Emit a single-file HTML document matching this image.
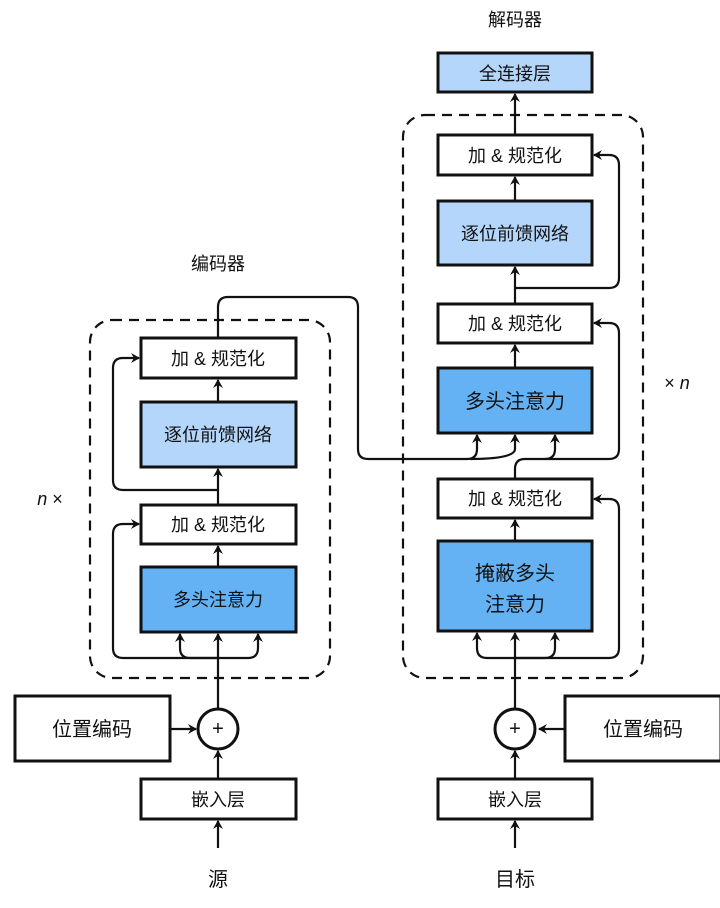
<!DOCTYPE html>
<html><head><meta charset="utf-8">
<style>
html,body{margin:0;padding:0;background:#fff;}
svg{display:block;}
text{font-family:"Liberation Sans","Noto Sans CJK SC",sans-serif;fill:#111;}
</style></head>
<body>
<svg width="720" height="908" viewBox="0 0 720 908" xmlns="http://www.w3.org/2000/svg">
<defs>
<marker id="a" markerWidth="10" markerHeight="10" refX="8" refY="5" orient="auto" markerUnits="userSpaceOnUse">
<path d="M0,0 L9,5 L0,10 L3,5 Z" fill="#111"/>
</marker>
</defs>
<g fill="none" stroke="#111" stroke-width="2.2">
<!-- dashed containers -->
<rect x="90" y="320" width="240" height="358" rx="22" stroke-dasharray="10,7"/>
<rect x="403" y="115" width="240" height="563" rx="22" stroke-dasharray="10,7"/>
</g>
<g stroke="#111" stroke-width="3">
<!-- encoder boxes -->
<rect x="141" y="338" width="155" height="40" fill="#fff"/>
<rect x="141" y="402" width="155" height="65" fill="#b4d6fb"/>
<rect x="141" y="505" width="155" height="39" fill="#fff"/>
<rect x="141" y="567" width="155" height="65" fill="#64b2f4"/>
<rect x="15" y="696" width="155" height="65" fill="#fff"/>
<rect x="141" y="779" width="155" height="40" fill="#fff"/>
<circle cx="218" cy="729" r="20" fill="#fff"/>
<!-- decoder boxes -->
<rect x="438" y="53" width="154" height="39" fill="#b4d6fb"/>
<rect x="438" y="135" width="154" height="40" fill="#fff"/>
<rect x="438" y="201" width="154" height="64" fill="#b4d6fb"/>
<rect x="438" y="304" width="154" height="39" fill="#fff"/>
<rect x="438" y="368" width="154" height="65" fill="#64b2f4"/>
<rect x="438" y="479" width="154" height="39" fill="#fff"/>
<rect x="438" y="541" width="154" height="90" fill="#64b2f4"/>
<rect x="565" y="696" width="156" height="65" fill="#fff"/>
<rect x="438" y="779" width="154" height="40" fill="#fff"/>
<circle cx="515" cy="729" r="20" fill="#fff"/>
</g>
<g fill="none" stroke="#111" stroke-width="2.2" marker-end="url(#a)">
<!-- encoder -->
<line x1="218" y1="848" x2="218" y2="821"/>
<line x1="218" y1="779" x2="218" y2="751"/>
<line x1="170" y1="729" x2="196" y2="729"/>
<line x1="218" y1="709" x2="218" y2="634"/>
<path d="M218,658 L190,658 Q180,658 180,648 L180,634"/>
<path d="M218,658 L248,658 Q258,658 258,648 L258,634"/>
<path d="M218,658 L123,658 Q113,658 113,648 L113,534 Q113,524 123,524 L139,524"/>
<line x1="218" y1="567" x2="218" y2="546"/>
<line x1="218" y1="505" x2="218" y2="469"/>
<path d="M218,490 L123,490 Q113,490 113,480 L113,368 Q113,358 123,358 L139,358"/>
<line x1="218" y1="402" x2="218" y2="380"/>
<!-- cross connection -->
<path d="M218,338 L218,307 Q218,297 228,297 L348,297 Q358,297 358,307 L358,449 Q358,459 368,459 L467,459 Q477,459 477,449 L477,435"/>
<path d="M470,459 Q515,459 515,449 L515,435"/>
<!-- decoder -->
<line x1="515" y1="848" x2="515" y2="821"/>
<line x1="515" y1="779" x2="515" y2="751"/>
<line x1="565" y1="729" x2="539" y2="729"/>
<line x1="515" y1="709" x2="515" y2="633"/>
<path d="M515,658 L487,658 Q477,658 477,648 L477,633"/>
<path d="M515,658 L545,658 Q555,658 555,648 L555,633"/>
<path d="M515,658 L609,658 Q619,658 619,648 L619,509 Q619,499 609,499 L594,499"/>
<line x1="515" y1="541" x2="515" y2="520"/>
<path d="M515,479 L515,469 Q515,459 525,459 L545,459 Q555,459 555,449 L555,435"/>
<path d="M545,459 L609,459 Q619,459 619,449 L619,333 Q619,323 609,323 L594,323"/>
<line x1="515" y1="368" x2="515" y2="345"/>
<line x1="515" y1="304" x2="515" y2="267"/>
<path d="M515,288 L609,288 Q619,288 619,278 L619,165 Q619,155 609,155 L594,155"/>
<line x1="515" y1="201" x2="515" y2="177"/>
<line x1="515" y1="135" x2="515" y2="94"/>
</g>
<g font-size="18" text-anchor="middle">
<text x="218" y="365">加 &amp; 规范化</text>
<text x="218" y="441">逐位前馈网络</text>
<text x="218" y="531">加 &amp; 规范化</text>
<text x="218" y="606">多头注意力</text>
<text x="92" y="736" font-size="20">位置编码</text>
<text x="218" y="806">嵌入层</text>
<text x="218" y="886" font-size="20">源</text>
<text x="218" y="270">编码器</text>
<text x="515" y="80">全连接层</text>
<text x="515" y="162">加 &amp; 规范化</text>
<text x="515" y="240">逐位前馈网络</text>
<text x="515" y="330">加 &amp; 规范化</text>
<text x="515" y="408" font-size="20">多头注意力</text>
<text x="515" y="505">加 &amp; 规范化</text>
<text x="515" y="580" font-size="20">掩蔽多头</text>
<text x="515" y="611" font-size="20">注意力</text>
<text x="643" y="736" font-size="20">位置编码</text>
<text x="515" y="806">嵌入层</text>
<text x="515" y="886" font-size="20">目标</text>
<text x="515" y="26">解码器</text>
<text x="50" y="505" font-family="Liberation Serif" font-style="italic">n <tspan font-style="normal">×</tspan></text>
<text x="677" y="389" font-family="Liberation Serif"><tspan>×</tspan> <tspan font-style="italic">n</tspan></text>
<text x="218" y="735" font-size="20">+</text>
<text x="515" y="735" font-size="20">+</text>
</g>
</svg>
</body></html>
